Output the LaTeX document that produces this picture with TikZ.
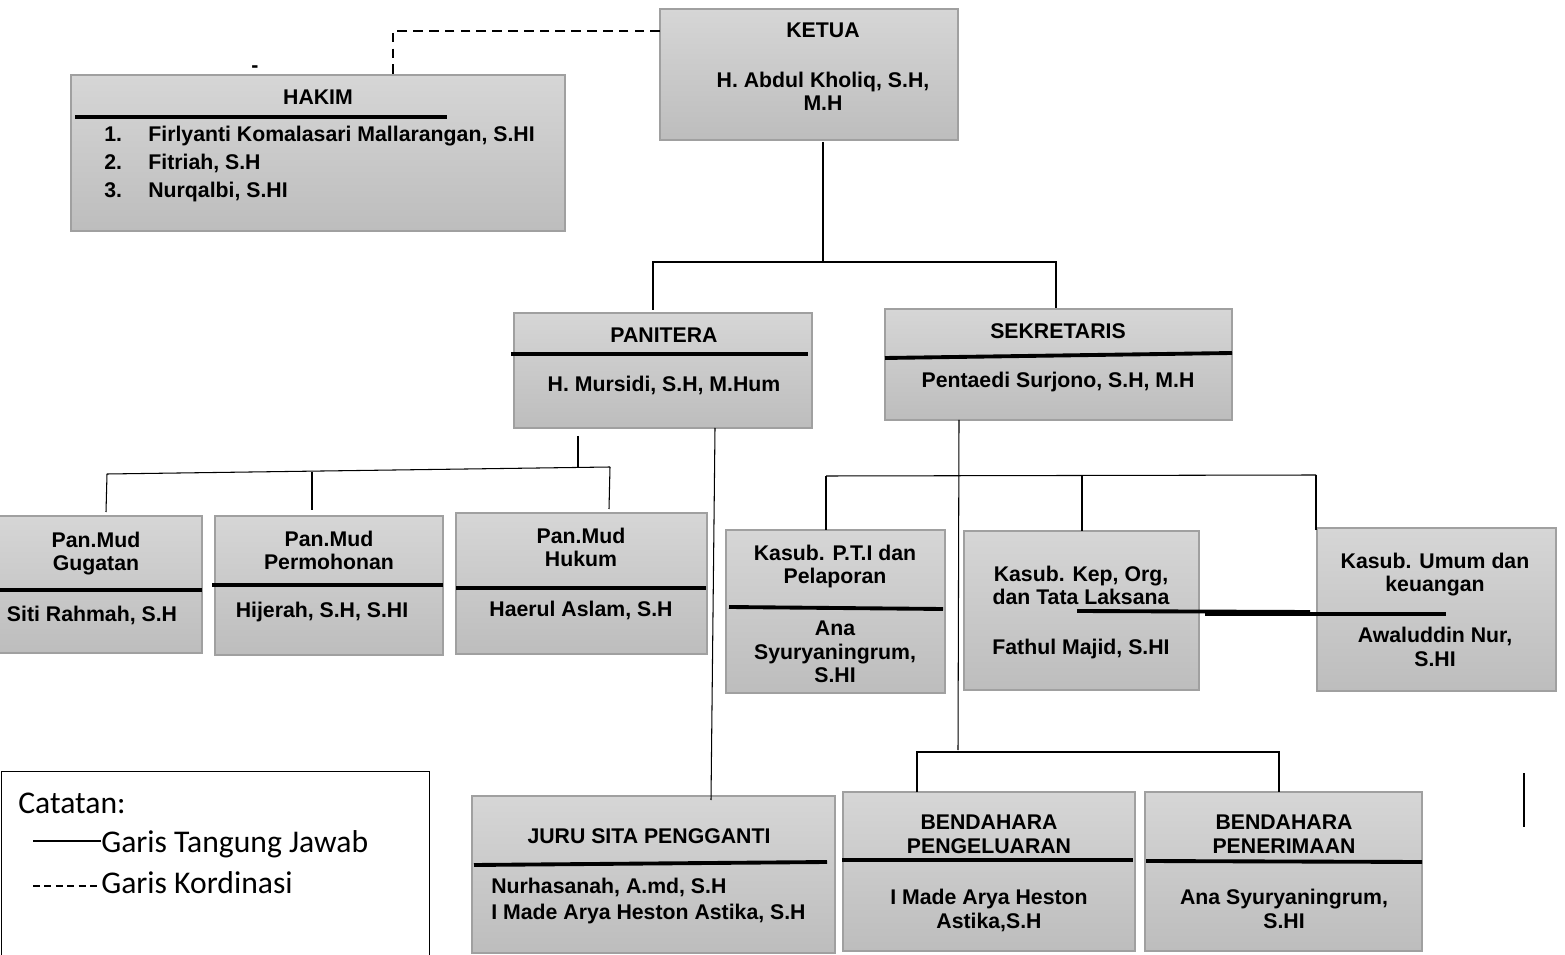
\documentclass[tikz,border=0pt]{standalone}
\usepackage{fontspec}
\setmainfont{Liberation Sans}
\newfontfamily\legendfont{Carlito}
\usetikzlibrary{calc}
\definecolor{boxtop}{RGB}{214,214,214}
\definecolor{boxbot}{RGB}{189,189,189}
\definecolor{boxline}{RGB}{160,160,160}
\newcommand\orgbox[5]{\node[bx,minimum width=#4*0.02cm,minimum height=#5*0.02cm,anchor=north west] (#1) at (#2,#3) {};}
\begin{document}
\begin{tikzpicture}[x=0.02cm,y=-0.02cm,
  bx/.style={draw=boxline,line width=0.8pt,top color=boxtop,bottom color=boxbot,inner sep=0pt,outer sep=0pt},
  txt/.style={font=\fontsize{12.1pt}{13.6pt}\selectfont\bfseries,inner sep=0pt,anchor=base,align=center},
  txtl/.style={txt,anchor=base west,align=left},
  sep/.style={line width=2.2pt,black},
  conn/.style={line width=0.6pt,black},
  coord/.style={line width=0.8pt,black,dash pattern=on 5.5pt off 3.5pt},
  leg/.style={font=\legendfont\fontsize{18pt}{22pt}\selectfont,inner sep=0pt,anchor=base west}]
\useasboundingbox (0,0) rectangle (1565,955);
% boxes
\orgbox{hakim}{71}{75}{494}{156}
\orgbox{ketua}{660}{9}{298}{131}
\orgbox{panitera}{514}{313}{298}{115}
\orgbox{sekretaris}{885}{309}{347}{111}
\orgbox{gugatan}{-4}{516}{206}{137}
\orgbox{permohonan}{215}{516}{228}{139}
\orgbox{hukum}{456}{513}{251}{141}
\orgbox{pti}{726}{530}{219}{163}
\orgbox{kep}{964}{531}{235}{159}
\orgbox{umum}{1317}{528}{239}{163}
\orgbox{jurusita}{472}{796}{363}{157}
\orgbox{bpeng}{843}{792}{292}{159}
\orgbox{bpen}{1145}{792}{277}{159}
\node[draw=black,line width=0.6pt,fill=white,minimum width=428*0.02cm,minimum height=200*0.02cm,anchor=north west,inner sep=0pt] (legend) at (1,771) {};
% separator lines
\draw[sep] (75,117) -- (447,117);
\draw[sep] (511,354) -- (808,354);
\draw[sep] (885,358) -- (1232,353);
\draw[sep] (-2,590) -- (202,590);
\draw[sep] (212,585) -- (443,585);
\draw[sep] (456,588) -- (706,588);
\draw[sep] (729,607) -- (943,609);
\draw[sep] (1077,611) -- (1310,612);
\draw[sep] (1205,614) -- (1446,614);
\draw[sep] (474,865) -- (827,862);
\draw[sep] (842,860) -- (1133,860);
\draw[sep] (1146,861) -- (1422,862);
\draw[conn] (1524,773) -- (1524,827);
% texts (multi-line nodes: base = last line)
\node[txt] (tketua) at (823,38) {KETUA};
\node[txt] (tketuan) at (823,111) {H. Abdul Kholiq, S.H,\\M.H};
\node[txt] (thakim) at (318,105) {HAKIM};
\node[txt] (hdash) at (255,73) {-};
\node[txtl] (hn1) at (104,142) {1.};
\node[txtl] (hn2) at (104,170) {2.};
\node[txtl] (hn3) at (104,198) {3.};
\node[txtl] (hm1) at (148,142) {Firlyanti Komalasari Mallarangan, S.HI};
\node[txtl] (hm2) at (148,170) {Fitriah, S.H};
\node[txtl] (hm3) at (148,198) {Nurqalbi, S.HI};
\node[txt] (tpan) at (664,343) {PANITERA};
\node[txt] (tpann) at (664,392) {H. Mursidi, S.H, M.Hum};
\node[txt] (tsek) at (1058,339) {SEKRETARIS};
\node[txt] (tsekn) at (1058,388) {Pentaedi Surjono, S.H, M.H};
\node[txt] (tgug) at (96,571) {Pan.Mud\\Gugatan};
\node[txt] (tgugn) at (92,622) {Siti Rahmah, S.H};
\node[txt] (tper) at (329,570) {Pan.Mud\\Permohonan};
\node[txt] (tpern) at (322,618) {Hijerah, S.H, S.HI};
\node[txt] (thuk) at (581,567) {Pan.Mud\\Hukum};
\node[txt] (thukn) at (581,617) {Haerul Aslam, S.H};
\node[txt] (tpti) at (835,584) {Kasub. P.T.I dan\\Pelaporan};
\node[txt] (tptin) at (835,683) {Ana\\Syuryaningrum,\\S.HI};
\node[txt] (tkep) at (1081,605) {Kasub. Kep, Org,\\dan Tata Laksana};
\node[txt] (tkepn) at (1081,655) {Fathul Majid, S.HI};
\node[txt] (tumum) at (1435,592) {Kasub. Umum dan\\keuangan};
\node[txt] (tumumn) at (1435,666) {Awaluddin Nur,\\S.HI};
\node[txt] (tjuru) at (649,843) {JURU SITA PENGGANTI};
\node[txtl] (tjuru1) at (491,893) {Nurhasanah, A.md, S.H};
\node[txtl] (tjuru2) at (491,919) {I Made Arya Heston Astika, S.H};
\node[txt] (tbpg) at (989,853) {BENDAHARA\\PENGELUARAN};
\node[txt] (tbpgn) at (989,928) {I Made Arya Heston\\Astika,S.H};
\node[txt] (tbpn) at (1284,853) {BENDAHARA\\PENERIMAAN};
\node[txt] (tbpnn) at (1284,928) {Ana Syuryaningrum,\\S.HI};
% legend
\node[leg] (lcat) at (18,813) {Catatan:};
\node[leg] (lg1) at (101,852) {Garis Tangung Jawab};
\node[leg] (lg2) at (101,893) {Garis Kordinasi};
\coordinate (l1a) at (33,841);
\draw[conn] (l1a) -- (lg1.base west |- l1a);
\coordinate (l2a) at (33,886);
\draw[line width=0.6pt,dash pattern=on 4pt off 2.5pt] (l2a) -- (lg2.base west |- l2a);
% connectors
\coordinate (kd) at ($(ketua.north west)+(0,22)$);
\coordinate (hd) at ($(hakim.north west)+(322,0)$);
\draw[coord] (kd) -| (hd);
\coordinate (kj) at (823,262);
\coordinate (kjl) at (653,262);
\coordinate (kjr) at (1056,262);
\draw[conn] ($(ketua.south west)+(163,2)$) -- (kj);
\draw[conn] ($(panitera.north west)+(139,-3)$) -- (kjl) -- (kjr) -- ($(sekretaris.north west)+(171,-1)$);
% panitera
\coordinate (pj) at (578,467);
\coordinate (pjl) at (107,474);
\coordinate (pjm) at (312,472.5);
\coordinate (pjr) at (610,467);
\draw[conn] ($(panitera.south west)+(64,8)$) -- (pj);
\draw[conn] (pjl) -- (pjr);
\draw[conn] (pjl) -- ($(gugatan.north west)+(110,-4)$);
\draw[conn] (pjm) -- ($(permohonan.north west)+(97,-6)$);
\draw[conn] (pjr) -- ($(hukum.north west)+(153,-4)$);
\draw[conn] ($(panitera.south west)+(201,0)$) -- ($(jurusita.north west)+(239,4)$);
% sekretaris
\coordinate (sj) at (958,750);
\coordinate (sjl) at (826,476);
\coordinate (sjm) at (1082,475.5);
\coordinate (sjr) at (1316,475);
\draw[conn] ($(sekretaris.south west)+(74,0)$) -- (sj);
\draw[conn] (sjl) -- (sjr);
\draw[conn] (sjl) -- ($(pti.north west)+(100,0)$);
\draw[conn] (sjm) -- ($(kep.north west)+(118,0)$);
\draw[conn] (sjr) -- ($(umum.north west)+(-1,2)$);
\coordinate (bjl) at (917,752);
\coordinate (bjr) at (1279,752);
\draw[conn] ($(bpeng.north west)+(74,0)$) -- (bjl) -- (bjr) -- ($(bpen.north west)+(134,0)$);
\end{tikzpicture}
\end{document}
